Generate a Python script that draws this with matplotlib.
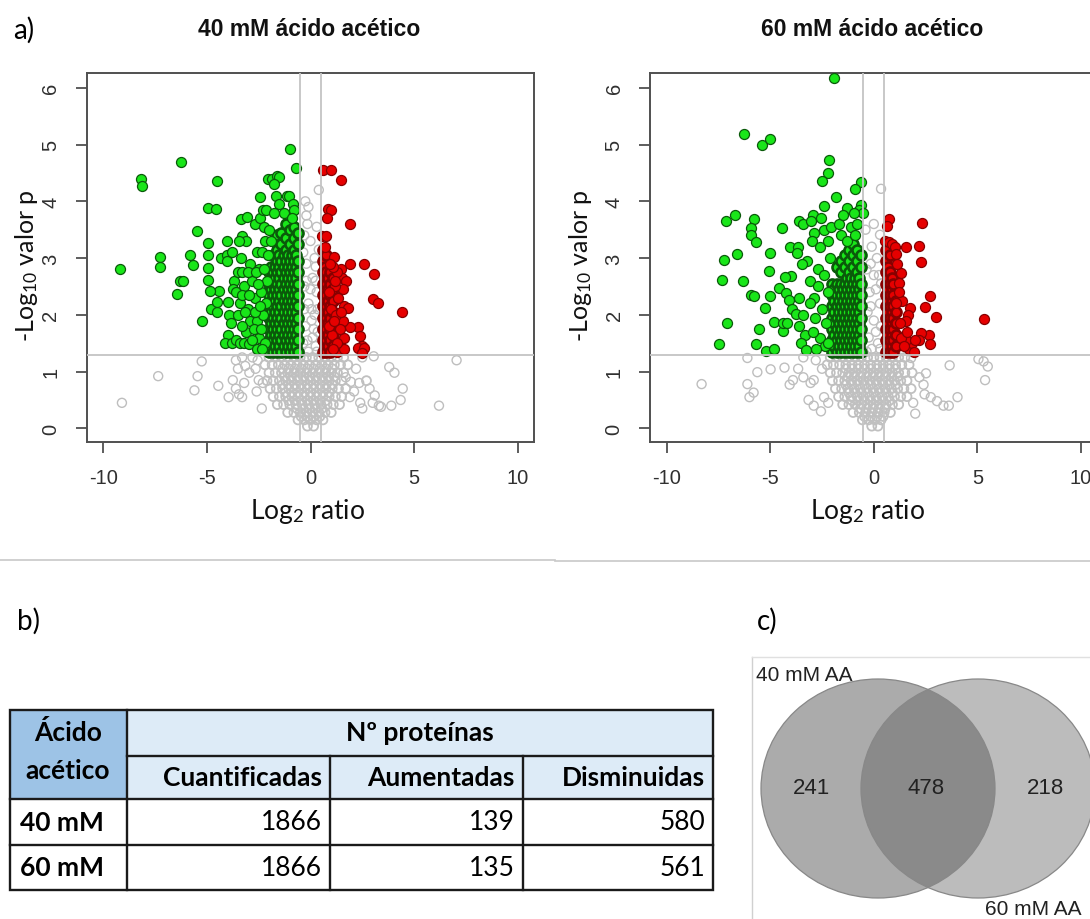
import matplotlib
matplotlib.use("Agg")
import matplotlib.pyplot as plt
from matplotlib.patches import Rectangle, Ellipse

plt.rcParams["mathtext.fontset"] = "custom"
plt.rcParams["mathtext.rm"] = "Lato"
plt.rcParams["mathtext.it"] = "Lato:italic"
plt.rcParams["mathtext.bf"] = "Lato:bold"
plt.rcParams["axes.unicode_minus"] = False

# ---------------------------------------------------------------- data
TITLES = ["40 mM ácido acético", "60 mM ácido acético"]
XTICKS = [-10, -5, 0, 5, 10]
YTICKS = [0, 1, 2, 3, 4, 5, 6]
FC_CUT = 0.5          # |log2 ratio| lines
P_CUT = 1.3           # -log10(0.05)

GREEN_40 = [
    (-9.2, 2.8), (-8.2, 4.4), (-8.15, 4.27), (-7.25, 3.02), (-7.25, 2.85), (-6.25, 4.7),
    (-6.3, 2.6), (-6.15, 2.6), (-6.45, 2.37), (-5.8, 3.05), (-5.65, 2.87), (-5.5, 3.47),
    (-5.25, 1.9), (-4.95, 3.27), (-4.95, 3.05), (-4.95, 2.83), (-4.95, 2.62), (-4.95, 3.88),
    (-4.55, 3.87), (-4.5, 4.35), (-4.8, 2.1), (-4.5, 2.05), (-4.4, 2.42), (-4.85, 2.42),
    (-4.5, 2.22), (-4.0, 1.65), (-4.15, 1.5), (-3.95, 2.0), (-4.0, 2.22), (-4.3, 3.0),
    (-4.05, 3.05), (-4.05, 2.95), (-4.05, 3.3), (-3.8, 3.1), (-3.7, 2.6), (-3.75, 2.45),
    (-3.85, 1.85), (-3.6, 2.4), (-3.35, 3.68), (-3.05, 3.72), (-3.3, 3.38), (-3.1, 3.3),
    (-3.45, 3.3), (-3.35, 3.0), (-3.5, 2.75), (-3.3, 2.75), (-3.8, 1.5), (-3.6, 1.55),
    (-3.4, 1.5), (-3.2, 1.5), (-2.95, 1.48), (-2.6, 1.4), (-2.45, 4.08), (-2.7, 3.6),
    (-2.45, 3.7), (-2.3, 3.85), (-2.15, 3.85), (-2.05, 4.4), (-1.85, 4.4), (-1.6, 4.45),
    (-1.5, 4.42), (-1.75, 4.3), (-1.0, 4.93), (-0.7, 4.58), (-1.65, 4.1), (-1.15, 4.1),
    (-1.05, 4.1), (-1.5, 3.95), (-0.85, 3.95), (-0.8, 3.85), (-1.3, 3.8), (-1.75, 3.8),
    (-0.9, 3.7),
    (-3.4, 2.2), (-3.2, 2.5), (-3.0, 2.1), (-2.9, 1.9), (-3.1, 1.7), (-2.8, 2.6), (-2.7, 2.3),
    (-2.6, 1.9), (-2.5, 2.8), (-2.4, 2.4), (-2.3, 2.0), (-2.5, 1.6), (-2.8, 1.55), (-3.3, 1.8),
    (-3.5, 2.0), (-2.9, 2.9), (-2.6, 3.1), (-2.35, 3.1), (-2.2, 3.3), (-2.25, 3.55), (-2.1, 2.6),
    (-3.0, 2.75), (-2.7, 2.05), (-2.2, 1.5), (-3.3, 2.35), (-2.55, 2.55), (-2.75, 1.75),
    (-2.4, 1.75), (-2.15, 2.2), (-2.35, 1.4), (-3.15, 2.05), (-2.95, 2.35), (-2.65, 2.75),
    (-2.45, 2.15), (-2.25, 2.8), (-2.05, 3.05), (-2.0, 3.5), (-1.9, 3.3),
]

GREEN_40_CORE = [
    (-2.0, 1.35), (-2.0, 1.55), (-2.0, 1.75), (-2.0, 1.95), (-2.0, 2.15), (-2.0, 2.35), (-2.0, 2.55), (-2.0, 2.75),
    (-1.9, 1.45), (-1.9, 1.65), (-1.9, 1.85), (-1.9, 2.05), (-1.9, 2.25), (-1.9, 2.45), (-1.9, 2.65), (-1.9, 2.85),
    (-1.8, 1.35), (-1.8, 1.55), (-1.8, 1.75), (-1.8, 1.95), (-1.8, 2.15), (-1.8, 2.35), (-1.8, 2.55), (-1.8, 2.75), (-1.8, 3.05),
    (-1.7, 1.45), (-1.7, 1.65), (-1.7, 1.85), (-1.7, 2.05), (-1.7, 2.25), (-1.7, 2.45), (-1.7, 2.65), (-1.7, 2.85),
    (-1.6, 1.35), (-1.6, 1.55), (-1.6, 1.75), (-1.6, 1.95), (-1.6, 2.15), (-1.6, 2.35), (-1.6, 2.55), (-1.6, 2.75), (-1.6, 2.95), (-1.6, 3.15), (-1.6, 3.4),
    (-1.5, 1.45), (-1.5, 1.65), (-1.5, 1.85), (-1.5, 2.05), (-1.5, 2.25), (-1.5, 2.45), (-1.5, 2.65), (-1.5, 2.85), (-1.5, 3.05),
    (-1.4, 1.35), (-1.4, 1.55), (-1.4, 1.75), (-1.4, 1.95), (-1.4, 2.15), (-1.4, 2.35), (-1.4, 2.55), (-1.4, 2.75), (-1.4, 2.95), (-1.4, 3.25), (-1.4, 3.45),
    (-1.3, 1.45), (-1.3, 1.65), (-1.3, 1.85), (-1.3, 2.05), (-1.3, 2.25), (-1.3, 2.45), (-1.3, 2.65), (-1.3, 2.85), (-1.3, 3.05),
    (-1.2, 1.35), (-1.2, 1.55), (-1.2, 1.75), (-1.2, 1.95), (-1.2, 2.15), (-1.2, 2.35), (-1.2, 2.55), (-1.2, 2.75), (-1.2, 2.95), (-1.2, 3.15), (-1.2, 3.35), (-1.2, 3.6),
    (-1.1, 1.45), (-1.1, 1.65), (-1.1, 1.85), (-1.1, 2.05), (-1.1, 2.25), (-1.1, 2.45), (-1.1, 2.65), (-1.1, 2.85), (-1.1, 3.05),
    (-1.0, 1.35), (-1.0, 1.55), (-1.0, 1.75), (-1.0, 1.95), (-1.0, 2.15), (-1.0, 2.35), (-1.0, 2.55), (-1.0, 2.75), (-1.0, 2.95), (-1.0, 3.25), (-1.0, 3.5),
    (-0.9, 1.45), (-0.9, 1.65), (-0.9, 1.85), (-0.9, 2.05), (-0.9, 2.25), (-0.9, 2.45), (-0.9, 2.65), (-0.9, 2.85), (-0.9, 3.05),
    (-0.8, 1.35), (-0.8, 1.55), (-0.8, 1.75), (-0.8, 1.95), (-0.8, 2.15), (-0.8, 2.35), (-0.8, 2.55), (-0.8, 2.75), (-0.8, 2.95), (-0.8, 3.15), (-0.8, 3.35), (-0.8, 3.55),
    (-0.7, 1.45), (-0.7, 1.65), (-0.7, 1.85), (-0.7, 2.05), (-0.7, 2.25), (-0.7, 2.45), (-0.7, 2.65), (-0.7, 2.85), (-0.7, 3.05),
    (-0.6, 1.35), (-0.6, 1.55), (-0.6, 1.75), (-0.6, 1.95), (-0.6, 2.15), (-0.6, 2.35), (-0.6, 2.55), (-0.6, 2.75), (-0.6, 2.95), (-0.6, 3.25), (-0.6, 3.45),
]

RED_40 = [
    (0.6, 4.55), (1.0, 4.55), (1.45, 4.38), (0.85, 3.87), (1.0, 3.85), (0.8, 3.7), (1.9, 3.6),
    (0.55, 3.38), (0.75, 3.38), (0.7, 3.2), (1.15, 3.02), (1.9, 2.9), (2.6, 2.9), (3.05, 2.72),
    (1.45, 2.8), (1.5, 2.65), (1.7, 2.6), (3.0, 2.28), (3.25, 2.2), (4.4, 2.05), (1.55, 2.45),
    (1.6, 2.15), (1.8, 2.12), (2.3, 1.78), (1.9, 1.78), (2.4, 1.62), (1.6, 1.6), (2.5, 1.45),
    (2.3, 1.42), (2.6, 1.42), (2.5, 1.32), (1.3, 1.35), (1.6, 1.4), (1.55, 1.9), (1.35, 2.3),
    (1.2, 2.5), (1.3, 2.75), (1.1, 2.85), (0.95, 2.9), (1.2, 2.6), (1.0, 2.1), (0.9, 2.4),
    (1.25, 2.0), (1.4, 1.75), (1.05, 1.65), (1.3, 1.5), (1.1, 1.4), (0.9, 1.8), (1.15, 1.9),
    (1.45, 2.05),
]

RED_40_CORE = [
    (0.6, 1.35), (0.6, 1.55), (0.6, 1.75), (0.6, 1.95), (0.6, 2.15), (0.6, 2.35), (0.6, 2.55), (0.6, 2.75), (0.6, 2.95), (0.6, 3.15),
    (0.68, 1.45), (0.68, 1.65), (0.68, 1.85), (0.68, 2.05), (0.68, 2.25), (0.68, 2.45), (0.68, 2.65), (0.68, 2.85),
    (0.76, 1.35), (0.76, 1.55), (0.76, 1.75), (0.76, 1.95), (0.76, 2.15), (0.76, 2.35), (0.76, 2.55), (0.76, 2.75), (0.76, 3.05),
    (0.86, 1.45), (0.86, 1.65), (0.86, 1.85), (0.86, 2.05), (0.86, 2.25), (0.86, 2.45), (0.86, 2.65),
    (0.95, 1.35), (0.95, 1.55), (0.95, 1.75), (0.95, 1.95), (0.95, 2.15), (0.95, 2.35), (0.95, 2.55), (0.95, 2.75),
    (1.08, 1.45), (1.08, 1.65), (1.08, 1.85), (1.08, 2.05), (1.08, 2.25), (1.08, 2.45), (1.08, 2.65),
]

GRAY_40 = [
    (-9.1, 0.45), (-7.35, 0.92), (-5.25, 1.18), (-5.45, 0.92), (-5.6, 0.67), (-4.45, 0.75),
    (-3.95, 0.55), (-3.75, 0.85), (-3.6, 0.7), (-3.45, 0.6), (-3.3, 0.55), (-3.2, 0.8),
    (-3.6, 1.2), (-3.5, 1.05), (-3.15, 1.1), (-2.95, 0.98), (-2.6, 0.65), (-2.5, 0.85),
    (-2.65, 1.05), (-2.3, 0.8), (-2.35, 0.35), (-2.8, 1.25), (-3.3, 1.25), (-2.55, 1.2),
    (7.05, 1.2), (6.2, 0.4), (4.45, 0.7), (4.35, 0.5), (4.05, 0.98), (3.8, 1.08), (3.9, 0.4),
    (3.4, 0.38), (3.3, 0.4), (3.1, 0.58), (3.0, 0.45), (2.85, 0.7), (3.05, 1.27), (2.5, 1.25),
    (2.35, 0.8), (2.4, 0.45), (2.1, 0.65), (1.9, 0.55), (1.95, 0.82), (1.7, 0.9), (2.5, 0.35),
    (2.2, 1.05),
    (0.4, 4.2), (-0.25, 4.0), (-0.1, 3.9), (-0.2, 3.75), (-0.15, 3.6), (-0.3, 3.4), (0.3, 3.55),
    (0.2, 3.0), (0.25, 2.85), (0.1, 2.65), (-0.2, 2.9), (-0.3, 2.5), (0.3, 2.4), (-0.1, 2.2),
    (0.2, 2.0), (-0.25, 1.8), (0.35, 1.7), (0.1, 1.6), (-0.35, 1.5), (0.25, 1.45), (-0.1, 1.35),
    (0.0, 3.3), (-0.35, 3.1), (0.35, 2.1), (0.05, 1.9), (-0.3, 2.1), (0.0, 2.45), (0.15, 1.75),
    (-0.15, 1.55), (0.3, 1.35), (0.05, 2.1), (-0.2, 2.6), (0.25, 2.6), (0.4, 3.15),
]

GRAY_40_CORE = [
    (-2.0, 1.25), (-1.7, 1.25), (-1.4, 1.25), (-1.1, 1.25), (-0.8, 1.25), (-0.5, 1.25), (-0.2, 1.25),
    (0.1, 1.25), (0.4, 1.25), (0.7, 1.25), (1.0, 1.25), (1.3, 1.25), (1.6, 1.25),
    (-2.2, 1.12), (-1.85, 1.12), (-1.55, 1.12), (-1.25, 1.12), (-0.95, 1.12), (-0.65, 1.12),
    (-0.35, 1.12), (-0.05, 1.12), (0.25, 1.12), (0.55, 1.12), (0.85, 1.12), (1.15, 1.12),
    (1.45, 1.12), (1.8, 1.12),
    (-1.35, 1.05), (-1.05, 1.05), (-0.75, 1.05), (-0.45, 1.05), (-0.15, 1.05), (0.15, 1.05),
    (0.45, 1.05), (0.75, 1.05), (1.05, 1.05),
    (-2.0, 0.98), (-1.7, 0.98), (-1.4, 0.98), (-1.1, 0.98), (-0.8, 0.98), (-0.5, 0.98), (-0.2, 0.98),
    (0.1, 0.98), (0.4, 0.98), (0.7, 0.98), (1.0, 0.98), (1.3, 0.98), (1.6, 0.98),
    (-1.25, 0.91), (-0.95, 0.91), (-0.65, 0.91), (-0.35, 0.91), (-0.05, 0.91), (0.25, 0.91),
    (0.55, 0.91), (0.85, 0.91), (1.15, 0.91),
    (-2.1, 0.84), (-1.8, 0.84), (-1.5, 0.84), (-1.2, 0.84), (-0.9, 0.84), (-0.6, 0.84), (-0.3, 0.84),
    (0.0, 0.84), (0.3, 0.84), (0.6, 0.84), (0.9, 0.84), (1.2, 0.84), (1.5, 0.84), (2.7, 0.84),
    (-1.35, 0.77), (-1.05, 0.77), (-0.75, 0.77), (-0.45, 0.77), (-0.15, 0.77), (0.15, 0.77),
    (0.45, 0.77), (0.75, 0.77), (1.05, 0.77),
    (-1.95, 0.7), (-1.65, 0.7), (-1.35, 0.7), (-1.05, 0.7), (-0.75, 0.7), (-0.45, 0.7), (-0.15, 0.7),
    (0.15, 0.7), (0.45, 0.7), (0.75, 0.7), (1.05, 0.7), (1.35, 0.7), (1.7, 0.7),
    (-1.2, 0.63), (-0.9, 0.63), (-0.6, 0.63), (-0.3, 0.63), (0.0, 0.63), (0.3, 0.63), (0.6, 0.63),
    (0.9, 0.63),
    (-1.8, 0.56), (-1.5, 0.56), (-1.2, 0.56), (-0.9, 0.56), (-0.6, 0.56), (-0.3, 0.56), (0.0, 0.56),
    (0.3, 0.56), (0.6, 0.56), (0.9, 0.56), (1.2, 0.56), (1.5, 0.56),
    (-1.05, 0.49), (-0.75, 0.49), (-0.45, 0.49), (-0.15, 0.49), (0.15, 0.49), (0.45, 0.49), (0.75, 0.49),
    (-1.6, 0.42), (-1.3, 0.42), (-1.0, 0.42), (-0.7, 0.42), (-0.4, 0.42), (-0.1, 0.42), (0.2, 0.42),
    (0.5, 0.42), (0.8, 0.42), (1.1, 0.42), (1.4, 0.42),
    (-0.65, 0.35), (-0.35, 0.35), (-0.05, 0.35), (0.25, 0.35), (0.55, 0.35),
    (-1.1, 0.28), (-0.8, 0.28), (-0.5, 0.28), (-0.2, 0.28), (0.1, 0.28), (0.4, 0.28), (0.7, 0.28), (1.0, 0.28),
    (-0.45, 0.21), (-0.15, 0.21), (0.15, 0.21), (0.45, 0.21),
    (-0.6, 0.15), (-0.3, 0.15), (0.0, 0.15), (0.3, 0.15), (0.6, 0.15), (-0.15, 0.04), (0.15, 0.04),
]

GREEN_60 = [
    (-1.91, 6.18), (-6.27, 5.18), (-5.4, 5.0), (-5.03, 5.09), (-2.15, 4.73), (-2.21, 4.49),
    (-2.5, 4.36), (-0.6, 4.34), (-0.9, 4.22), (-1.81, 4.08), (-2.4, 3.91), (-1.29, 3.89),
    (-0.64, 3.93), (-0.7, 3.85), (-0.54, 3.79), (-0.94, 3.79), (-2.92, 3.75), (-2.55, 3.71),
    (-6.68, 3.75), (-7.15, 3.65), (-5.8, 3.68), (-3.61, 3.65), (-5.94, 3.53), (-5.94, 3.41),
    (-4.41, 3.53), (-5.69, 3.28), (-6.58, 3.08), (-5.0, 3.09), (-7.25, 2.97), (-5.07, 2.78),
    (-7.33, 2.61), (-6.33, 2.59), (-5.94, 2.35), (-5.77, 2.33), (-5.02, 2.34), (-5.23, 2.12),
    (-7.1, 1.86), (-5.54, 1.75), (-4.82, 1.88), (-7.45, 1.49), (-5.7, 1.49), (-5.2, 1.37),
    (-4.82, 1.39), (-4.36, 1.71), (-4.4, 1.85), (-4.2, 1.85), (-4.06, 3.19), (-3.65, 3.19),
    (-3.7, 3.09), (-3.98, 2.69), (-4.3, 2.66), (-4.56, 2.48), (-4.25, 2.39), (-4.1, 2.27),
    (-3.94, 2.1), (-3.77, 2.02),
    (-3.4, 3.6), (-3.05, 3.66), (-2.9, 3.45), (-3.0, 3.3), (-3.2, 2.95), (-3.1, 2.6), (-3.45, 2.9),
    (-3.6, 2.3), (-3.4, 2.0), (-3.6, 1.8), (-3.3, 1.65), (-3.5, 1.5), (-3.25, 1.38), (-2.9, 2.3),
    (-2.7, 2.8), (-2.6, 3.2), (-2.4, 3.5), (-2.2, 3.3), (-2.85, 1.95), (-2.6, 1.6), (-2.7, 2.5),
    (-2.4, 2.7), (-2.5, 2.1), (-2.3, 1.85), (-2.2, 2.4), (-2.1, 3.0), (-2.35, 1.45), (-2.8, 1.4),
    (-3.1, 2.2), (-2.95, 1.7), (-2.2, 1.5), (-2.05, 3.55), (-1.7, 3.6), (-1.5, 3.75), (-1.1, 3.55),
    (-1.6, 3.4), (-0.8, 3.6), (-1.3, 3.3), (-0.9, 3.4),
]

GREEN_60_CORE = [
    (-2.0, 1.35), (-2.0, 1.55), (-2.0, 1.75), (-2.0, 1.95), (-2.0, 2.15), (-2.0, 2.35), (-2.0, 2.55),
    (-1.9, 1.45), (-1.9, 1.65), (-1.9, 1.85), (-1.9, 2.05), (-1.9, 2.25), (-1.9, 2.45),
    (-1.8, 1.35), (-1.8, 1.55), (-1.8, 1.75), (-1.8, 1.95), (-1.8, 2.15), (-1.8, 2.35), (-1.8, 2.55), (-1.8, 2.85),
    (-1.7, 1.45), (-1.7, 1.65), (-1.7, 1.85), (-1.7, 2.05), (-1.7, 2.25), (-1.7, 2.45),
    (-1.6, 1.35), (-1.6, 1.55), (-1.6, 1.75), (-1.6, 1.95), (-1.6, 2.15), (-1.6, 2.35), (-1.6, 2.55), (-1.6, 2.75), (-1.6, 2.95),
    (-1.5, 1.45), (-1.5, 1.65), (-1.5, 1.85), (-1.5, 2.05), (-1.5, 2.25), (-1.5, 2.45),
    (-1.4, 1.35), (-1.4, 1.55), (-1.4, 1.75), (-1.4, 1.95), (-1.4, 2.15), (-1.4, 2.35), (-1.4, 2.55), (-1.4, 2.85), (-1.4, 3.05),
    (-1.3, 1.45), (-1.3, 1.65), (-1.3, 1.85), (-1.3, 2.05), (-1.3, 2.25), (-1.3, 2.45), (-1.3, 2.65),
    (-1.2, 1.35), (-1.2, 1.55), (-1.2, 1.75), (-1.2, 1.95), (-1.2, 2.15), (-1.2, 2.35), (-1.2, 2.55), (-1.2, 2.75), (-1.2, 2.95), (-1.2, 3.15),
    (-1.1, 1.45), (-1.1, 1.65), (-1.1, 1.85), (-1.1, 2.05), (-1.1, 2.25), (-1.1, 2.45), (-1.1, 2.65),
    (-1.0, 1.35), (-1.0, 1.55), (-1.0, 1.75), (-1.0, 1.95), (-1.0, 2.15), (-1.0, 2.35), (-1.0, 2.55), (-1.0, 2.85), (-1.0, 3.05), (-1.0, 3.25),
    (-0.9, 1.45), (-0.9, 1.65), (-0.9, 1.85), (-0.9, 2.05), (-0.9, 2.25), (-0.9, 2.45), (-0.9, 2.65),
    (-0.8, 1.35), (-0.8, 1.55), (-0.8, 1.75), (-0.8, 1.95), (-0.8, 2.15), (-0.8, 2.35), (-0.8, 2.55), (-0.8, 2.75), (-0.8, 2.95), (-0.8, 3.15),
    (-0.7, 1.45), (-0.7, 1.65), (-0.7, 1.85), (-0.7, 2.05), (-0.7, 2.25), (-0.7, 2.45), (-0.7, 2.65),
    (-0.6, 1.35), (-0.6, 1.55), (-0.6, 1.75), (-0.6, 1.95), (-0.6, 2.15), (-0.6, 2.35), (-0.6, 2.55), (-0.6, 2.85), (-0.6, 3.05),
]

RED_60 = [
    (0.72, 3.68), (0.64, 3.57), (2.35, 3.61), (0.55, 3.3), (0.75, 3.28), (0.9, 3.25), (1.0, 3.2),
    (1.56, 3.19), (2.18, 3.21), (2.28, 2.93), (1.06, 3.08), (1.31, 2.73), (1.22, 2.56), (2.73, 2.34),
    (2.45, 2.14), (1.75, 2.12), (1.65, 2.0), (1.55, 1.9), (2.99, 1.96), (5.3, 1.92), (2.68, 1.65),
    (2.3, 1.68), (2.2, 1.55), (2.73, 1.49), (1.7, 1.4), (1.85, 1.5), (1.55, 1.55), (1.95, 1.35),
    (1.3, 1.6), (1.25, 1.85), (1.35, 2.25), (1.2, 2.4), (1.1, 2.9), (1.05, 2.2), (1.45, 1.45),
    (1.6, 1.7), (2.0, 1.55),
]

RED_60_CORE = [
    (0.6, 1.35), (0.6, 1.55), (0.6, 1.75), (0.6, 1.95), (0.6, 2.15), (0.6, 2.35), (0.6, 2.55), (0.6, 2.75), (0.6, 2.95), (0.6, 3.15),
    (0.68, 1.45), (0.68, 1.65), (0.68, 1.85), (0.68, 2.05), (0.68, 2.25), (0.68, 2.45), (0.68, 2.65), (0.68, 2.85),
    (0.76, 1.35), (0.76, 1.55), (0.76, 1.75), (0.76, 1.95), (0.76, 2.15), (0.76, 2.35), (0.76, 2.55), (0.76, 2.75), (0.76, 3.05),
    (0.86, 1.45), (0.86, 1.65), (0.86, 1.85), (0.86, 2.05), (0.86, 2.25), (0.86, 2.45), (0.86, 2.65),
    (0.95, 1.35), (0.95, 1.55), (0.95, 1.75), (0.95, 1.95), (0.95, 2.15), (0.95, 2.35), (0.95, 2.55),
    (1.08, 1.45), (1.08, 1.65), (1.08, 1.85), (1.08, 2.05), (1.08, 2.25),
]

GRAY_60 = [
    (-8.31, 0.78), (-6.1, 1.24), (-6.1, 0.78), (-5.8, 0.63), (-6.0, 0.55), (-5.62, 0.99),
    (-4.98, 1.04), (-4.31, 1.07), (-4.06, 0.77), (-3.9, 0.85), (-3.65, 1.05), (-3.4, 0.9),
    (-3.05, 0.8), (-2.9, 0.85), (-3.15, 0.5), (-2.9, 0.4), (-2.55, 0.3), (-2.4, 0.55),
    (-2.2, 0.45), (-3.4, 1.25), (-2.8, 1.2), (-2.5, 1.05),
    (2.52, 0.97), (2.4, 0.77), (2.45, 0.6), (3.66, 1.11), (4.04, 0.55), (3.36, 0.4), (3.62, 0.4),
    (3.05, 0.48), (2.75, 0.55), (2.0, 0.26), (5.05, 1.22), (5.3, 1.18), (5.5, 1.09), (5.37, 0.85),
    (1.8, 1.24), (2.2, 0.9), (1.9, 0.45),
    (0.35, 4.22), (0.3, 3.41), (-0.15, 2.9), (0.25, 2.7), (-0.2, 2.4), (0.3, 2.2), (0.0, 1.9),
    (-0.25, 1.6), (0.2, 1.5), (-0.1, 3.2), (0.15, 3.0), (-0.35, 2.8), (0.35, 1.8), (-0.3, 2.05),
    (0.1, 2.45), (-0.1, 1.4), (0.35, 2.55), (-0.4, 3.5), (0.0, 3.6), (0.1, 1.7), (-0.15, 2.15),
    (0.3, 1.4), (-0.35, 1.35), (0.0, 2.7),
]

GRAY_60_CORE = [
    (-2.1, 1.25), (-1.8, 1.25), (-1.5, 1.25), (-1.2, 1.25), (-0.9, 1.25), (-0.6, 1.25), (-0.3, 1.25),
    (0.0, 1.25), (0.3, 1.25), (0.6, 1.25), (0.9, 1.25), (1.2, 1.25), (1.5, 1.25),
    (-2.25, 1.12), (-1.95, 1.12), (-1.65, 1.12), (-1.35, 1.12), (-1.05, 1.12), (-0.75, 1.12),
    (-0.45, 1.12), (-0.15, 1.12), (0.15, 1.12), (0.45, 1.12), (0.75, 1.12), (1.05, 1.12), (1.35, 1.12),
    (1.7, 1.12),
    (-1.35, 1.05), (-1.05, 1.05), (-0.75, 1.05), (-0.45, 1.05), (-0.15, 1.05), (0.15, 1.05),
    (0.45, 1.05), (0.75, 1.05), (1.05, 1.05),
    (-2.1, 0.98), (-1.8, 0.98), (-1.5, 0.98), (-1.2, 0.98), (-0.9, 0.98), (-0.6, 0.98), (-0.3, 0.98),
    (0.0, 0.98), (0.3, 0.98), (0.6, 0.98), (0.9, 0.98), (1.2, 0.98), (1.5, 0.98), (1.85, 0.98),
    (-1.25, 0.91), (-0.95, 0.91), (-0.65, 0.91), (-0.35, 0.91), (-0.05, 0.91), (0.25, 0.91),
    (0.55, 0.91), (0.85, 0.91), (1.15, 0.91),
    (-2.0, 0.84), (-1.7, 0.84), (-1.4, 0.84), (-1.1, 0.84), (-0.8, 0.84), (-0.5, 0.84), (-0.2, 0.84),
    (0.1, 0.84), (0.4, 0.84), (0.7, 0.84), (1.0, 0.84), (1.3, 0.84), (1.6, 0.84),
    (-1.35, 0.77), (-1.05, 0.77), (-0.75, 0.77), (-0.45, 0.77), (-0.15, 0.77), (0.15, 0.77),
    (0.45, 0.77), (0.75, 0.77), (1.05, 0.77),
    (-1.85, 0.7), (-1.55, 0.7), (-1.25, 0.7), (-0.95, 0.7), (-0.65, 0.7), (-0.35, 0.7), (-0.05, 0.7),
    (0.25, 0.7), (0.55, 0.7), (0.85, 0.7), (1.15, 0.7), (1.45, 0.7), (1.8, 0.7),
    (-1.2, 0.63), (-0.9, 0.63), (-0.6, 0.63), (-0.3, 0.63), (0.0, 0.63), (0.3, 0.63), (0.6, 0.63),
    (0.9, 0.63),
    (-1.7, 0.56), (-1.4, 0.56), (-1.1, 0.56), (-0.8, 0.56), (-0.5, 0.56), (-0.2, 0.56), (0.1, 0.56),
    (0.4, 0.56), (0.7, 0.56), (1.0, 0.56), (1.3, 0.56), (1.6, 0.56),
    (-1.05, 0.49), (-0.75, 0.49), (-0.45, 0.49), (-0.15, 0.49), (0.15, 0.49), (0.45, 0.49), (0.75, 0.49),
    (-1.5, 0.42), (-1.2, 0.42), (-0.9, 0.42), (-0.6, 0.42), (-0.3, 0.42), (0.0, 0.42), (0.3, 0.42),
    (0.6, 0.42), (0.9, 0.42), (1.2, 0.42),
    (-0.65, 0.35), (-0.35, 0.35), (-0.05, 0.35), (0.25, 0.35), (0.55, 0.35),
    (-1.0, 0.28), (-0.7, 0.28), (-0.4, 0.28), (-0.1, 0.28), (0.2, 0.28), (0.5, 0.28), (0.8, 0.28),
    (-0.45, 0.21), (-0.15, 0.21), (0.15, 0.21), (0.45, 0.21),
    (-0.55, 0.15), (-0.25, 0.15), (0.05, 0.15), (0.35, 0.15), (-0.1, 0.04), (0.2, 0.04),
]

# table b)
TABLE_GROUP = ["Ácido", "acético"]
TABLE_HEADER = "Nº proteínas"
TABLE_COLUMNS = ["Cuantificadas", "Aumentadas", "Disminuidas"]
TABLE_ROWS = ["40 mM", "60 mM"]
CUANTIFICADAS = [1866, 1866]
AUMENTADAS = [139, 135]
DISMINUIDAS = [580, 561]

# venn c)
VENN_SETS = ["40 mM AA", "60 mM AA"]
VENN_ONLY_40 = 241
VENN_BOTH = 478
VENN_ONLY_60 = 218

# ---------------------------------------------------------------- figure
W, H = 1090, 920
fig = plt.figure(figsize=(W / 100, H / 100), dpi=100)


def box(x0, y0, x1, y1):
    return [x0 / W, 1 - y1 / H, (x1 - x0) / W, (y1 - y0) / H]


ov = fig.add_axes([0, 0, 1, 1])
ov.set_xlim(0, W)
ov.set_ylim(H, 0)
ov.axis("off")

R_FONT = "Liberation Sans"
C_FONT = "Lato"
FRAME = "#505050"
G_FACE, G_EDGE = "#19e619", "#0a5a0a"
R_FACE, R_EDGE = "#e60000", "#870000"


def pts(ax, data, size, face, edge, lw, z):
    xs, ys = zip(*data)
    ax.scatter(xs, ys, s=size, facecolors=face, edgecolors=edge, linewidths=lw, zorder=z)


def volcano(rect, gray, gray_core, green, green_core, red, red_core,
            title, title_x, ylab_x, xlab_x):
    ax = fig.add_axes(box(*rect))
    pts(ax, gray, 42, "none", "#bebebe", 1.0, 2)
    pts(ax, gray_core, 42, "none", "#c0c0c0", 1.3, 2)
    # dense clusters: heavy overplotting in the original, drawn with thicker rims
    pts(ax, green_core, 52, G_FACE, G_EDGE, 1.9, 3)
    pts(ax, green, 52, G_FACE, G_EDGE, 0.9, 3)
    pts(ax, red_core, 52, R_FACE, R_EDGE, 1.9, 3)
    pts(ax, red, 52, R_FACE, R_EDGE, 0.9, 3)
    for v in (-FC_CUT, FC_CUT):
        ax.axvline(v, color="#c4c4c4", lw=1.3, zorder=4)
    ax.axhline(P_CUT, color="#c4c4c4", lw=1.3, zorder=4)
    ax.set_xlim(-10.8, 10.8)
    ax.set_ylim(-0.24, 6.26)
    ax.set_xticks(XTICKS)
    ax.set_yticks(YTICKS)
    for s in ax.spines.values():
        s.set_color(FRAME)
        s.set_linewidth(1.4)
    ax.tick_params(length=8, width=1.3, color=FRAME, labelcolor="#303030",
                   labelsize=14.5, pad=11)
    for lab in ax.get_xticklabels() + ax.get_yticklabels():
        lab.set_fontfamily(R_FONT)
    for lab in ax.get_yticklabels():
        lab.set_rotation(90)
        lab.set_va("center")
    ov.text(title_x, 29, title, ha="center", va="center", fontsize=16.5,
            fontweight="bold", family=R_FONT, color="#111111")
    ov.text(ylab_x, 266, r"-Log$_{10}$ valor p", ha="center", va="center",
            rotation=90, fontsize=18, family=C_FONT, color="#111111")
    ov.text(xlab_x, 512, r"Log$_{2}$ ratio", ha="center", va="center",
            fontsize=19, family=C_FONT, color="#111111")
    return ax


volcano((86.7, 74, 534.3, 443), GRAY_40, GRAY_40_CORE, GREEN_40, GREEN_40_CORE,
        RED_40, RED_40_CORE, TITLES[0], 309, 27, 307)
volcano((650, 74, 1097.6, 443), GRAY_60, GRAY_60_CORE, GREEN_60, GREEN_60_CORE,
        RED_60, RED_60_CORE, TITLES[1], 872, 580, 867)

# panel letters
ov.text(13, 30, "a)", ha="left", va="center", fontsize=20, family=C_FONT)
ov.text(17, 621, "b)", ha="left", va="center", fontsize=20, family=C_FONT)
ov.text(757, 621, "c)", ha="left", va="center", fontsize=20, family=C_FONT)

# separator line
ov.plot([0, 555], [560.5, 560.5], color="#c8c8c8", lw=1.2)
ov.plot([555, 1090], [561.5, 561.5], color="#c8c8c8", lw=1.2)

# ---------------------------------------------------------------- table
TX = [10, 127, 330, 523, 713]
TY = [711, 757, 800, 846, 891]
ov.add_patch(Rectangle((TX[0], TY[0]), TX[1] - TX[0], TY[2] - TY[0],
                       facecolor="#9dc3e6", edgecolor="none"))
ov.add_patch(Rectangle((TX[1], TY[0]), TX[4] - TX[1], TY[2] - TY[0],
                       facecolor="#ddebf7", edgecolor="none"))
LW = 1.7
LC = "#1a1a1a"
ov.add_patch(Rectangle((TX[0], TY[0]), TX[4] - TX[0], TY[4] - TY[0],
                       facecolor="none", edgecolor=LC, lw=LW))
ov.plot([TX[1], TX[4]], [TY[1], TY[1]], color=LC, lw=LW)
for yy in (TY[2], TY[3]):
    ov.plot([TX[0], TX[4]], [yy, yy], color=LC, lw=LW)
ov.plot([TX[1], TX[1]], [TY[0], TY[4]], color=LC, lw=LW)
for xx in (TX[2], TX[3]):
    ov.plot([xx, xx], [TY[1], TY[4]], color=LC, lw=LW)

TFS = 19
ov.text(68, 733, TABLE_GROUP[0], ha="center", va="center", fontsize=TFS, fontweight="bold", family=C_FONT)
ov.text(68, 771, TABLE_GROUP[1], ha="center", va="center", fontsize=TFS, fontweight="bold", family=C_FONT)
ov.text((TX[1] + TX[4]) / 2, 733, TABLE_HEADER, ha="center", va="center",
        fontsize=TFS, fontweight="bold", family=C_FONT)
for i, col in enumerate(TABLE_COLUMNS):
    ov.text(TX[i + 2] - 8, 778, col, ha="right", va="center", fontsize=TFS,
            fontweight="bold", family=C_FONT)
for r, name in enumerate(TABLE_ROWS):
    yc = (TY[r + 2] + TY[r + 3]) / 2
    ov.text(20, yc, name, ha="left", va="center", fontsize=TFS, fontweight="bold", family=C_FONT)
    for i, vals in enumerate((CUANTIFICADAS, AUMENTADAS, DISMINUIDAS)):
        ov.text(TX[i + 2] - 8, yc, str(vals[r]), ha="right", va="center",
                fontsize=TFS, family=C_FONT)

# ---------------------------------------------------------------- venn
ov.plot([752, 752], [658, 920], color="#d0d0d0", lw=1.0)
ov.plot([752, 1090], [658, 658], color="#e0e0e0", lw=1.0)
EW, EH = 234, 219
CL = (878, 789.5)
CR = (978, 789.5)
ov.add_patch(Ellipse(CL, EW, EH, facecolor="#ababab", edgecolor="none"))
ov.add_patch(Ellipse(CR, EW, EH, facecolor="#bcbcbc", edgecolor="none"))
inter = Ellipse(CL, EW, EH, facecolor="#8a8a8a", edgecolor="none")
ov.add_patch(inter)
inter.set_clip_path(Ellipse(CR, EW, EH, transform=ov.transData))
for c in (CL, CR):
    ov.add_patch(Ellipse(c, EW, EH, facecolor="none", edgecolor="#888888", lw=0.9))
VFS = 16
ov.text(812, 789, str(VENN_ONLY_40), ha="center", va="center", fontsize=VFS, family=R_FONT, color="#222222")
ov.text(926, 789, str(VENN_BOTH), ha="center", va="center", fontsize=VFS, family=R_FONT, color="#222222")
ov.text(1046, 789, str(VENN_ONLY_60), ha="center", va="center", fontsize=VFS, family=R_FONT, color="#222222")
ov.text(756, 676, VENN_SETS[0], ha="left", va="center", fontsize=15, family=R_FONT, color="#222222")
ov.text(985, 910, VENN_SETS[1], ha="left", va="center", fontsize=15, family=R_FONT, color="#222222")

fig.savefig("out.png", dpi=100)
